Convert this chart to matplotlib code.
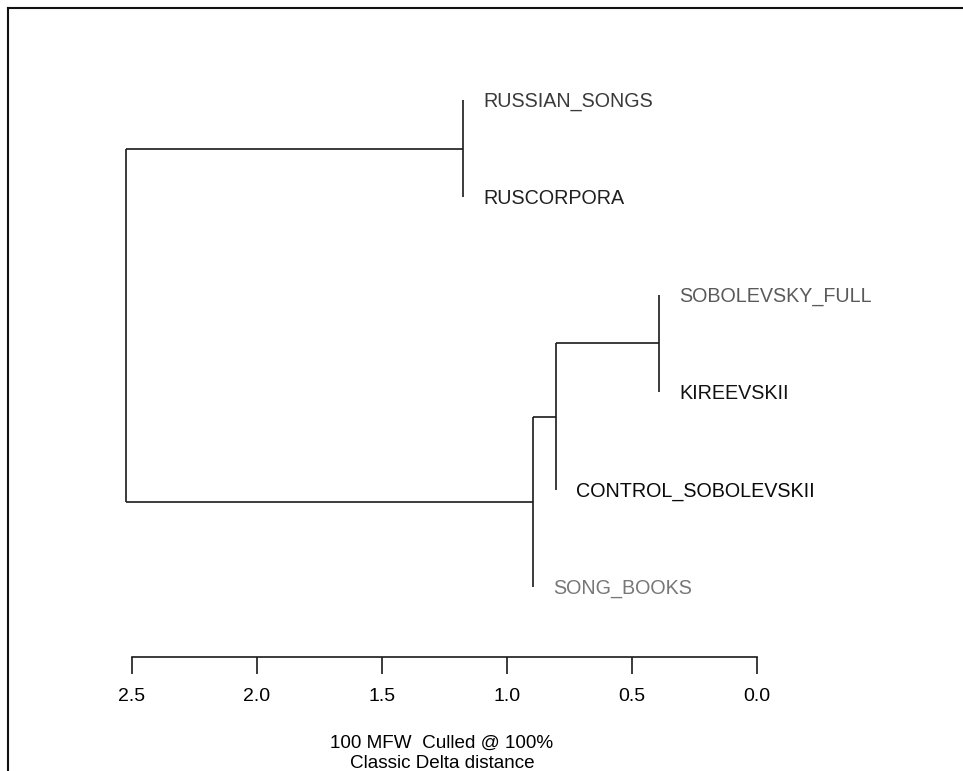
import matplotlib
matplotlib.use("Agg")
import matplotlib.pyplot as plt
from matplotlib.lines import Line2D

plt.rcParams["font.family"] = ["Liberation Sans", "DejaVu Sans"]

# leaves, top to bottom
labels = ["RUSSIAN_SONGS", "RUSCORPORA", "SOBOLEVSKY_FULL",
          "KIREEVSKII", "CONTROL_SOBOLEVSKII", "SONG_BOOKS"]
label_colors = ["#3a3a3a", "#202020", "#5a5a5a", "#111111", "#0a0a0a", "#777777"]

# merges: (child a, child b, height); leaves are 0..5, merge i makes node 6+i
merges = [(0, 1, 1.176), (2, 3, 0.392), (7, 4, 0.804), (8, 5, 0.896), (6, 9, 2.524)]

ticks = [2.5, 2.0, 1.5, 1.0, 0.5, 0.0]
subtitle = "100 MFW  Culled @ 100%\nClassic Delta distance"

W, H = 963, 771
fig = plt.figure(figsize=(W / 100, H / 100), dpi=100)
# axes: bottom spine sits at y=657 px, spans whole width
ax = fig.add_axes([0, 1 - 657 / H, 1, (657 - 8) / H])
ax.set_xlim(2.5 + 132 / 250, 0 - (W - 757) / 250)
step = 97.4
ax.set_ylim(1 - (657 - 587) / step, 6 + (100 - 8) / step)

n = len(labels)
ypos = {i: n - i for i in range(n)}
height = {}
lc = "#1a1a1a"
for k, (a, b, h) in enumerate(merges):
    node = n + k
    ax.plot([h, h], [ypos[a], ypos[b]], color=lc, lw=1.2, solid_capstyle="butt")
    for c in (a, b):
        if c >= n:
            ax.plot([h, height[c]], [ypos[c], ypos[c]], color=lc, lw=1.2, solid_capstyle="butt")
        else:
            ax.text(h - 0.08, ypos[c] - 0.015, labels[c], color=label_colors[c],
                    fontsize=14.2, va="center", ha="left")
    ypos[node] = (ypos[a] + ypos[b]) / 2
    height[node] = h

for s in ["top", "left", "right"]:
    ax.spines[s].set_visible(False)
ax.spines["bottom"].set_bounds(0, 2.5)
ax.spines["bottom"].set_linewidth(1.2)
ax.spines["bottom"].set_color(lc)
ax.set_yticks([])
ax.set_xticks(ticks)
ax.set_xticklabels([f"{t:.1f}" for t in ticks])
ax.tick_params(axis="x", length=12, width=1.2, color=lc, pad=10, labelsize=14)

fig.text(442 / W, 1 - 753.5 / H, subtitle, ha="center", va="center",
         fontsize=13.6, linespacing=1.3)

# outer frame (cropped at right and bottom)
fig.add_artist(Line2D([8 / W, 8 / W], [0, 1 - 8 / H], color="#111111", lw=1.5))
fig.add_artist(Line2D([8 / W, 1], [1 - 8 / H, 1 - 8 / H], color="#111111", lw=1.5))

fig.savefig("out.png", dpi=100)
